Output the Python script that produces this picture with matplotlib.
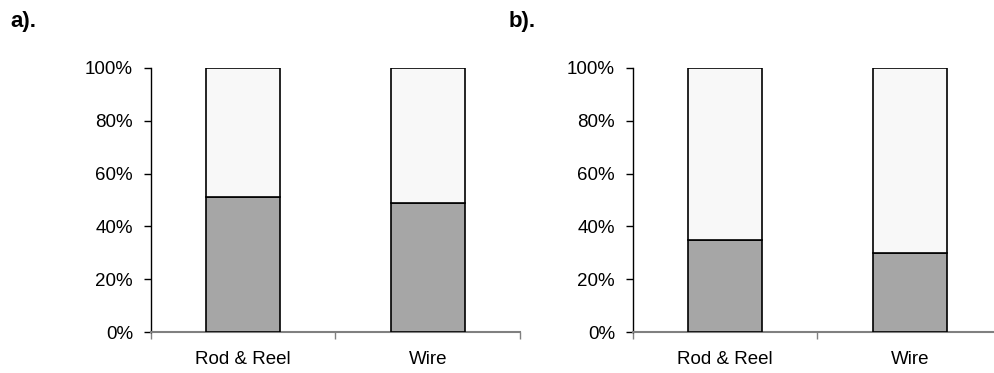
import matplotlib.pyplot as plt
import numpy as np

plt.rcParams['font.family'] = ['Liberation Sans', 'DejaVu Sans']

categories = ['Rod & Reel', 'Wire']
panel_a_lower = [51, 49]
panel_b_lower = [35, 30]
panel_labels = ['a).', 'b).']
ytick_values = [0, 20, 40, 60, 80, 100]

dark_fill = '#a6a6a6'
light_fill = '#f8f8f8'
axis_grey = '#808080'


def draw_panel(ax, lower):
    x = np.arange(len(categories))
    upper = [100 - v for v in lower]
    ax.bar(x, lower, width=0.4, color=dark_fill, edgecolor='black', linewidth=1.2, zorder=3)
    ax.bar(x, upper, width=0.4, bottom=lower, color=light_fill, edgecolor='black', linewidth=1.2, zorder=3)
    ax.set_xlim(-0.5, len(categories) - 0.5)
    ax.set_ylim(0, 100)
    ax.set_yticks(ytick_values)
    ax.set_yticklabels([f'{v}%' for v in ytick_values])
    # category labels sit between boundary ticks, Excel style
    ax.set_xticks(np.arange(-0.5, len(categories)), minor=False)
    ax.set_xticklabels([''] * (len(categories) + 1))
    ax.set_xticks(x, minor=True)
    ax.set_xticklabels(categories, minor=True)
    ax.tick_params(axis='x', which='major', direction='out', length=5, color=axis_grey, width=1)
    ax.tick_params(axis='x', which='minor', length=0, labelsize=13.5, pad=14)
    ax.tick_params(axis='y', direction='out', length=5, color='black', width=1, labelsize=13.5, pad=8)
    for side in ('top', 'right'):
        ax.spines[side].set_visible(False)
    ax.spines['left'].set_color('black')
    ax.spines['left'].set_linewidth(1)
    ax.spines['bottom'].set_color(axis_grey)
    ax.spines['bottom'].set_linewidth(1.5)


fig = plt.figure(figsize=(9.94, 3.73), dpi=100)
ax_a = fig.add_axes([0.1519, 0.1099, 0.3712, 0.7078])
ax_b = fig.add_axes([0.6368, 0.1099, 0.3712, 0.7078])
draw_panel(ax_a, panel_a_lower)
draw_panel(ax_b, panel_b_lower)

fig.text(0.010, 0.942, panel_labels[0], fontsize=16, fontweight='bold', va='center')
fig.text(0.512, 0.942, panel_labels[1], fontsize=16, fontweight='bold', va='center')

fig.savefig('out.png', dpi=100)
